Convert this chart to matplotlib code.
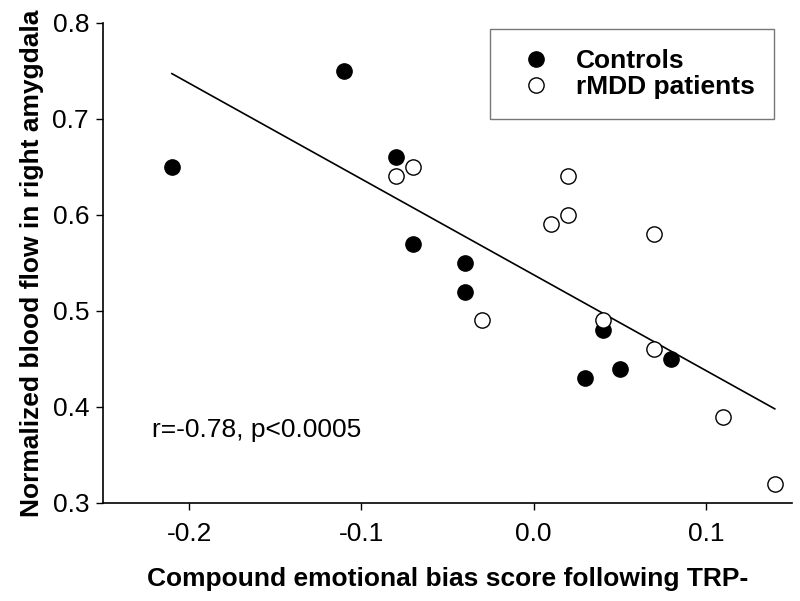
'''Scatter of amygdala blood flow vs emotional bias score, with fit line.'''

import matplotlib.pyplot as plt

plt.rcParams['font.family'] = ['Liberation Sans', 'DejaVu Sans']

# Controls (filled)
ctrl_x = [-0.21, -0.11, -0.08, -0.07, -0.04, -0.04, 0.03, 0.04, 0.05, 0.08]
ctrl_y = [0.65, 0.75, 0.66, 0.57, 0.55, 0.52, 0.43, 0.48, 0.44, 0.45]

# rMDD patients (open)
pat_x = [-0.08, -0.07, -0.03, 0.01, 0.02, 0.02, 0.04, 0.07, 0.07, 0.11, 0.14]
pat_y = [0.64, 0.65, 0.49, 0.59, 0.64, 0.60, 0.49, 0.58, 0.46, 0.39, 0.32]

# regression line end points
fit_x = [-0.21, 0.14]
fit_y = [0.747, 0.398]

x_ticks = [-0.2, -0.1, 0.0, 0.1]
x_labels = ['-0.2', '-0.1', '0.0', '0.1']
y_ticks = [0.3, 0.4, 0.5, 0.6, 0.7, 0.8]

fig = plt.figure(figsize=(8, 6.01), dpi=100)
ax = fig.add_axes([0.12875, 0.1631, 0.86125, 0.7991])

ax.plot(fit_x, fit_y, color='black', lw=1.2, zorder=1)
ax.plot(ctrl_x, ctrl_y, 'o', color='black', ms=11, label='Controls', zorder=2)
ax.plot(pat_x, pat_y, 'o', mfc='white', mec='black', mew=1.0, ms=11,
        label='rMDD patients', zorder=3)

ax.set_xlim(-0.25, 0.15)
ax.set_ylim(0.3, 0.8)
ax.set_xticks(x_ticks)
ax.set_xticklabels(x_labels)
ax.set_yticks(y_ticks)
ax.tick_params(direction='out', length=5, width=1, labelsize=19)
ax.tick_params(axis='x', pad=9)
ax.tick_params(axis='y', pad=5)
for s in ['top', 'right']:
    ax.spines[s].set_visible(False)
for s in ['left', 'bottom']:
    ax.spines[s].set_linewidth(1.2)

ax.set_xlabel('Compound emotional bias score following TRP-',
              fontsize=19, fontweight='bold', labelpad=15)
ax.set_ylabel('Normalized blood flow in right amygdala',
              fontsize=19, fontweight='bold', labelpad=6)

ax.text(-0.2215, 0.3757, 'r=-0.78, p<0.0005', fontsize=19, va='center')

leg = ax.legend(loc='upper left', bbox_to_anchor=(0.6125, 0.9517),
                bbox_transform=fig.transFigure, borderaxespad=0,
                fancybox=False, edgecolor='#555555', handletextpad=0.5,
                borderpad=0.75, labelspacing=0.08, handlelength=2.0,
                prop={'weight': 'bold', 'size': 19})
leg.get_frame().set_linewidth(1.0)

fig.savefig('out.png', dpi=100)
